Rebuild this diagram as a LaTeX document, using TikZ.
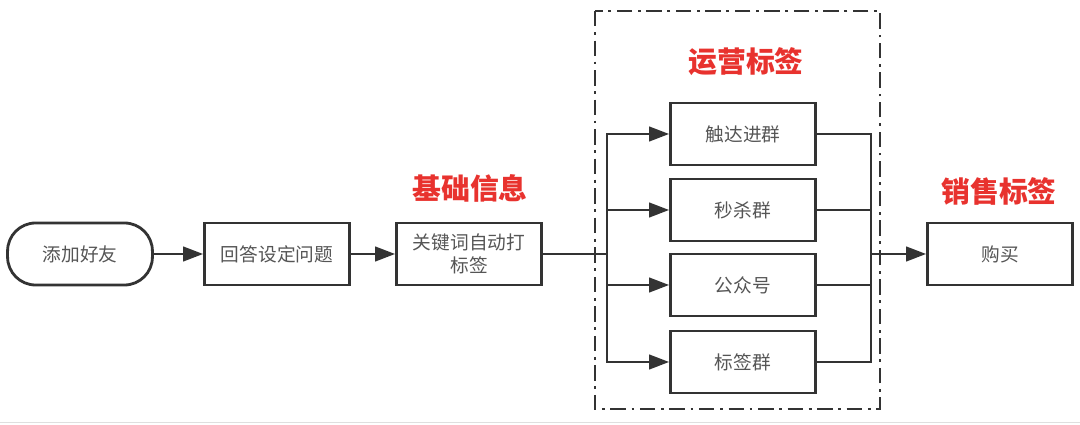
\documentclass[tikz,border=0pt]{standalone}
\usepackage{fontspec}
\setmainfont{Noto Sans CJK SC}
\usetikzlibrary{arrows.meta}

\definecolor{boxline}{HTML}{333333}
\definecolor{boxtext}{HTML}{555555}
\definecolor{tagred}{HTML}{E8322E}

\tikzset{
  stepbox/.style={draw=boxline, line width=2pt, minimum width=3.62cm, minimum height=1.55cm,
    align=center, text=boxtext, font=\fontsize{13.3}{16}\selectfont, inner sep=2pt},
  startbox/.style={stepbox, rounded corners=0.7cm},
  tagtitle/.style={text=tagred, font=\fontsize{20.5}{24}\selectfont\bfseries},
  flow/.style={draw=boxline, line width=2pt},
  arrow/.style={flow, -{Triangle[length=0.5cm, width=0.36cm]}},
  groupframe/.style={draw=boxline, line width=1.8pt, dash pattern=on 11pt off 4pt on 2pt off 4pt}
}

\begin{document}
\begin{tikzpicture}[x=0.025cm, y=-0.025cm]
\useasboundingbox (0,0) rectangle (1080,425);
\draw[gray!25, line width=1pt] (0,422.5) -- (1080,422.5);

% dash-dot frame round the operation tags
\draw[groupframe] (595,11) rectangle (880,409);

\node[startbox] (add) at (80,254) {添加好友};
\node[stepbox] (answer) at (277,254) {回答设定问题};
\node[stepbox] (keyword) at (469,254) {关键词自动打\\标签};
\node[tagtitle] (basic) at (470,188) {基础信息};

\node[tagtitle] (ops) at (746,62) {运营标签};
\node[stepbox] (reach) at (743,134) {触达进群};
\node[stepbox] (flash) at (743,210) {秒杀群};
\node[stepbox] (official) at (743,285) {公众号};
\node[stepbox] (group) at (743,362) {标签群};

\node[tagtitle] (sales) at (999,191) {销售标签};
\node[stepbox] (buy) at (1000,254) {购买};

\coordinate (split) at (607,254);
\coordinate (merge) at (871,254);

\draw[arrow] (add) -- (answer);
\draw[arrow] (answer) -- (keyword);
\draw[flow] (keyword) -- (split);
\foreach \t in {reach,flash,official,group}{
  \draw[arrow] (split) |- (\t.west);
  \draw[flow] (\t.east) -| (merge);
}
\draw[arrow] (merge) -- (buy);

\end{tikzpicture}
\end{document}
